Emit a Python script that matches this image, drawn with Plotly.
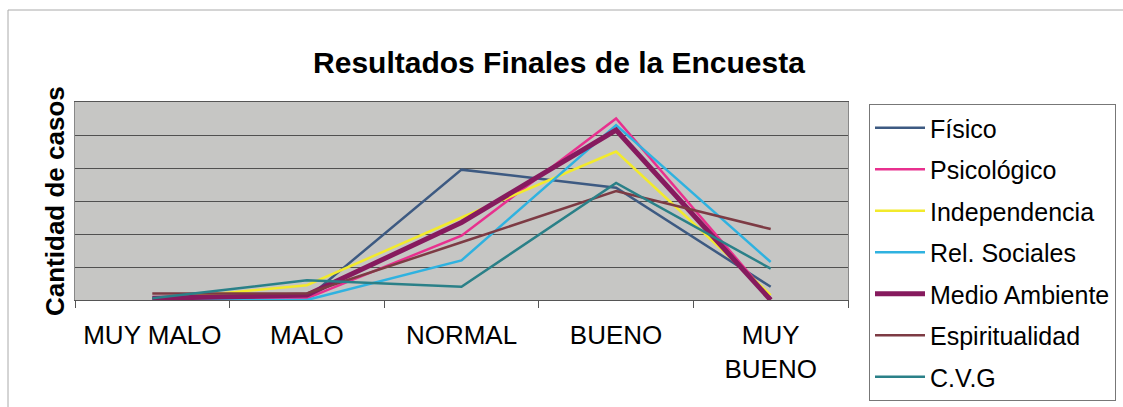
import plotly.graph_objects as go

# Survey answer categories (x axis)
categorias = ["MUY MALO", "MALO", "NORMAL", "BUENO", "MUY<br>BUENO"]

# Number of cases per dimension
fisico = [0, 0.5, 39.5, 34, 4]
psicologico = [0, 0.5, 19.5, 55, 0.5]
independencia = [0, 4.5, 25, 45, 1.5]
rel_sociales = [0, 0, 12, 53, 11.5]
medio_ambiente = [0.5, 1.5, 23.5, 51.5, 0]
espiritualidad = [2, 2, 17.5, 33, 21.5]
cvg = [0.5, 6, 4, 35.5, 9.5]

series = [
    ("Físico", fisico, "#3d5a82", 2.5),
    ("Psicológico", psicologico, "#e8308e", 2.5),
    ("Independencia", independencia, "#f2ea2c", 2.5),
    ("Rel. Sociales", rel_sociales, "#2fb2e0", 2.5),
    ("Medio Ambiente", medio_ambiente, "#861a5e", 5),
    ("Espiritualidad", espiritualidad, "#7d3b44", 2.5),
    ("C.V.G", cvg, "#2a8088", 2.5),
]

W, H = 1123, 407
L, R, T, B = 75, 848, 102, 300

fig = go.Figure()
for i, (nombre, valores, color, ancho) in enumerate(series):
    fig.add_trace(go.Scatter(
        x=categorias, y=valores, name=nombre, mode="lines",
        legendgroup=f"g{i}",
        line=dict(color=color, width=ancho),
    ))


def px_x(x):
    return (x - L) / (R - L)


def px_y(y):
    return (B - y) / (B - T)


fig.update_layout(
    width=W, height=H,
    margin=dict(l=L, r=W - R, t=T, b=H - B, autoexpand=False),
    paper_bgcolor="white",
    plot_bgcolor="#c6c6c4",
    font=dict(family="Liberation Sans, Arial, sans-serif", color="black"),
    title=dict(
        text="<b>Resultados Finales de la Encuesta</b>",
        x=px_x(559), xref="paper", xanchor="center",
        y=1 - 62 / H, yanchor="middle",
        font=dict(size=30, family="Liberation Sans, Arial, sans-serif"),
    ),
    showlegend=True,
    legend=dict(
        x=px_x(869), y=px_y(104), xanchor="left", yanchor="top",
        bordercolor="#777", borderwidth=1, bgcolor="white",
        font=dict(size=25, family="Liberation Sans, Arial, sans-serif"),
        tracegroupgap=6, itemwidth=50, maxheight=400,
    ),
    xaxis=dict(
        type="category", range=[-0.5, 4.5],
        tickson="boundaries", ticks="outside", ticklen=7, tickcolor="#555",
        showline=True, linecolor="#555", linewidth=1, mirror=True,
        showgrid=False, ticklabelstandoff=12,
        tickfont=dict(size=26, family="Liberation Sans, Arial, sans-serif"),
    ),
    yaxis=dict(
        range=[0, 60], dtick=10,
        showgrid=True, gridcolor="#505050", gridwidth=1,
        showticklabels=False, ticks="",
        showline=True, linecolor="#888", mirror=True,
        zeroline=False,
    ),
    annotations=[dict(
        text="<b>Cantidad de casos</b>", textangle=-90,
        xref="paper", yref="paper", x=px_x(55), y=px_y(201),
        xanchor="center", yanchor="middle", showarrow=False,
        font=dict(size=26, family="Liberation Sans, Arial, sans-serif"),
    )],
    shapes=[dict(
        type="rect", xref="paper", yref="paper",
        x0=px_x(8), x1=px_x(1140), y0=px_y(420), y1=px_y(10),
        line=dict(color="#aaa", width=1), fillcolor="rgba(0,0,0,0)",
        layer="below",
    )],
)

fig.write_html("out.html")
